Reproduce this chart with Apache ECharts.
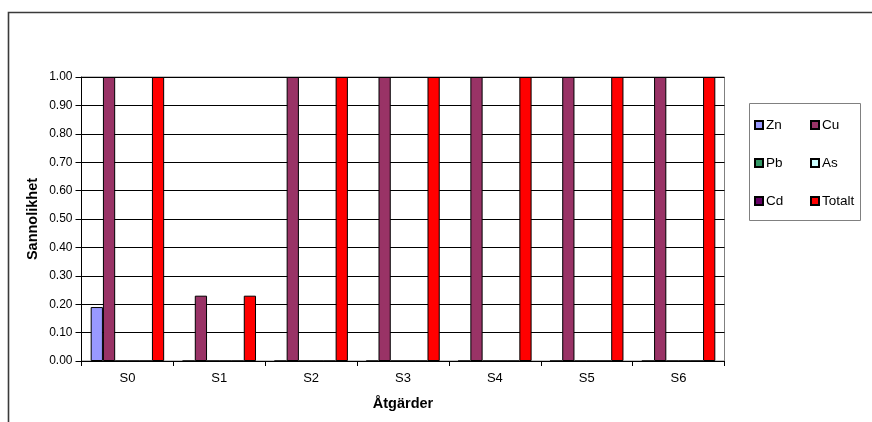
<!DOCTYPE html>
<html>
<head>
<meta charset="utf-8">
<script src="https://cdn.jsdelivr.net/npm/echarts@6/dist/echarts.min.js"></script>
<style>
  html, body { margin: 0; padding: 0; background: #fff; }
  #chart { width: 872px; height: 422px; }
</style>
</head>
<body>
<div id="chart"></div>
<script>
// Åtgärder (measures) along the x axis
const categories = ['S0', 'S1', 'S2', 'S3', 'S4', 'S5', 'S6'];

// Sannolikhet per metal and total
const zn = [0.19, 0, 0, 0, 0, 0, 0];
const cu = [1.00, 0.23, 1.00, 1.00, 1.00, 1.00, 1.00];
const pb = [0, 0, 0, 0, 0, 0, 0];
const as = [0, 0, 0, 0, 0, 0, 0];
const cd = [0, 0, 0, 0, 0, 0, 0];
const totalt = [1.00, 0.23, 1.00, 1.00, 1.00, 1.00, 1.00];

const seriesNames = ['Zn', 'Cu', 'Pb', 'As', 'Cd', 'Totalt'];
const seriesData = [zn, cu, pb, as, cd, totalt];
const seriesColors = ['#9999FF', '#993366', '#339966', '#CCFFFF', '#660066', '#FF0000'];

const FONT = '"Liberation Sans", Arial, sans-serif';

const chart = echarts.init(document.getElementById('chart'), null, { renderer: 'canvas' });

const series = seriesNames.map((name, i) => ({
  name: name,
  type: 'bar',
  data: seriesData[i],
  barGap: '0%',
  barCategoryGap: '20%',
  itemStyle: { color: seriesColors[i], borderColor: '#000', borderWidth: 1 },
  emphasis: { disabled: true }
}));

const legendCommon = {
  orient: 'vertical',
  icon: 'rect',
  itemWidth: 8,
  itemHeight: 8,
  itemGap: 24,
  padding: 0,
  selectedMode: false,
  textStyle: { fontFamily: FONT, fontSize: 13.5, color: '#000', padding: [0, 0, 0, -2] }
};

chart.setOption({
  animation: false,
  backgroundColor: '#fff',
  color: seriesColors,
  graphic: [
    {
      type: 'rect',
      shape: { x: 8.5, y: 12.5, width: 1000, height: 1000 },
      style: { fill: 'none', stroke: '#3a3a3a', lineWidth: 1.6 },
      silent: true,
      z: -1
    },
    {
      type: 'rect',
      shape: { x: 749.5, y: 103.5, width: 111, height: 117 },
      style: { fill: '#fff', stroke: '#808080', lineWidth: 1 },
      silent: true,
      z: 0
    }
  ],
  legend: [
    Object.assign({}, legendCommon, { data: ['Zn', 'Pb', 'Cd'], left: 754, top: 118 }),
    Object.assign({}, legendCommon, { data: ['Cu', 'As', 'Totalt'], left: 810, top: 118 })
  ],
  grid: {
    left: 81.5,
    right: 147.5,
    top: 77,
    bottom: 61,
    show: true,
    borderColor: '#808080',
    borderWidth: 1,
    containLabel: false
  },
  xAxis: {
    type: 'category',
    data: categories,
    name: 'Åtgärder',
    nameLocation: 'middle',
    nameGap: 35,
    nameMoveOverlap: false,
    nameTextStyle: { fontFamily: FONT, fontSize: 14.5, fontWeight: 'bold', color: '#000' },
    axisLine: { lineStyle: { color: '#000', width: 1 } },
    axisTick: { show: true, length: 5, lineStyle: { color: '#000' } },
    axisLabel: { fontFamily: FONT, fontSize: 13, color: '#000', margin: 11 },
    splitLine: { show: false }
  },
  yAxis: {
    type: 'value',
    min: 0,
    max: 1,
    interval: 0.1,
    name: 'Sannolikhet',
    nameLocation: 'middle',
    nameGap: 41,
    nameMoveOverlap: false,
    nameTextStyle: { fontFamily: FONT, fontSize: 14.5, fontWeight: 'bold', color: '#000' },
    axisLine: { show: true, lineStyle: { color: '#000', width: 1 } },
    axisTick: { show: true, length: 6, lineStyle: { color: '#000' } },
    axisLabel: {
      fontFamily: FONT, fontSize: 12, color: '#000', margin: 9,
      formatter: v => v.toFixed(2)
    },
    splitLine: { show: true, lineStyle: { color: '#000', width: 1 } }
  },
  series: series
});
</script>
</body>
</html>
